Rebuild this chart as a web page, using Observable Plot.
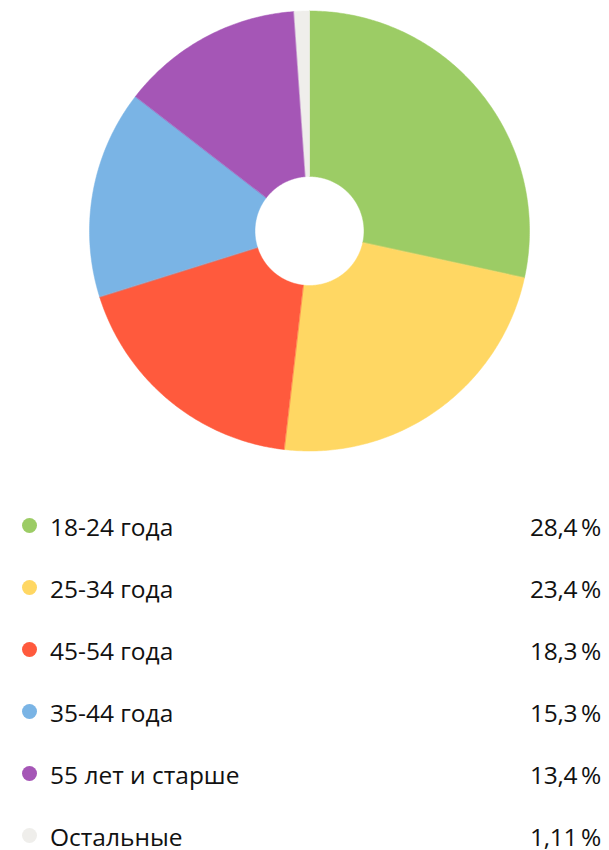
<!DOCTYPE html>
<html>
<head>
<meta charset="utf-8">
<script src="https://cdn.jsdelivr.net/npm/d3@7"></script>
<script src="https://cdn.jsdelivr.net/npm/@observablehq/plot@0.6"></script>
<style>
  body { margin: 0; background: #fff; font-family: "Open Sans", sans-serif; overflow: hidden; }
  #chart svg { display: block; }
  #legend { position: relative; height: 380px; }
  .row { position: absolute; left: 0; right: 0; height: 28px; line-height: 28px; font-size: 24.5px; color: #111; }
  .dot { position: absolute; left: 22px; top: 5px; width: 15px; height: 15px; border-radius: 50%; }
  .lab { position: absolute; left: 50px; top: 0; }
  .val { position: absolute; right: 8px; top: 0; letter-spacing: -0.3px; }
</style>
</head>
<body>
<div id="chart"></div>
<div id="legend"></div>
<script>
const categories = ["18-24 года", "25-34 года", "45-54 года", "35-44 года", "55 лет и старше", "Остальные"];
const values = [28.4, 23.4, 18.3, 15.3, 13.4, 1.11];
const valueLabels = ["28,4\u2009%", "23,4\u2009%", "18,3\u2009%", "15,3\u2009%", "13,4\u2009%", "1,11\u2009%"];
const colors = ["#9ccc65", "#ffd763", "#ff5a3d", "#7ab4e5", "#a556b6", "#efeeeb"];

const R = 220, r0 = 54.5;
const total = d3.sum(values);
const pts = [];
let acc = 0;
categories.forEach((c, i) => {
  const a0 = acc / total * 2 * Math.PI;
  acc += values[i];
  const a1 = acc / total * 2 * Math.PI;
  const n = Math.max(4, Math.ceil((a1 - a0) / 0.01));
  for (let k = 0; k <= n; k++) {
    const t = a0 + (a1 - a0) * k / n;
    pts.push({cat: c, ox: R * Math.sin(t), oy: -R * Math.cos(t), ix: r0 * Math.sin(t), iy: -r0 * Math.cos(t)});
  }
});

const plot = Plot.plot({
  width: 609,
  height: 470,
  margin: 0,
  x: {domain: [-309.5, 299.5], range: [0, 609], axis: null},
  y: {domain: [-231, 239], range: [0, 470], axis: null},
  color: {domain: categories, range: colors},
  marks: [
    Plot.area(pts, {x1: "ox", y1: "oy", x2: "ix", y2: "iy", z: "cat", fill: "cat", stroke: "cat", strokeWidth: 0.5})
  ]
});
document.getElementById("chart").append(plot);

const legend = document.getElementById("legend");
categories.forEach((c, i) => {
  const row = document.createElement("div");
  row.className = "row";
  row.style.top = (527 - 470 - 14 + 62 * i) + "px";
  row.innerHTML = `<span class="dot" style="background:${colors[i]}"></span><span class="lab">${c}</span><span class="val">${valueLabels[i]}</span>`;
  legend.append(row);
});
</script>
</body>
</html>
